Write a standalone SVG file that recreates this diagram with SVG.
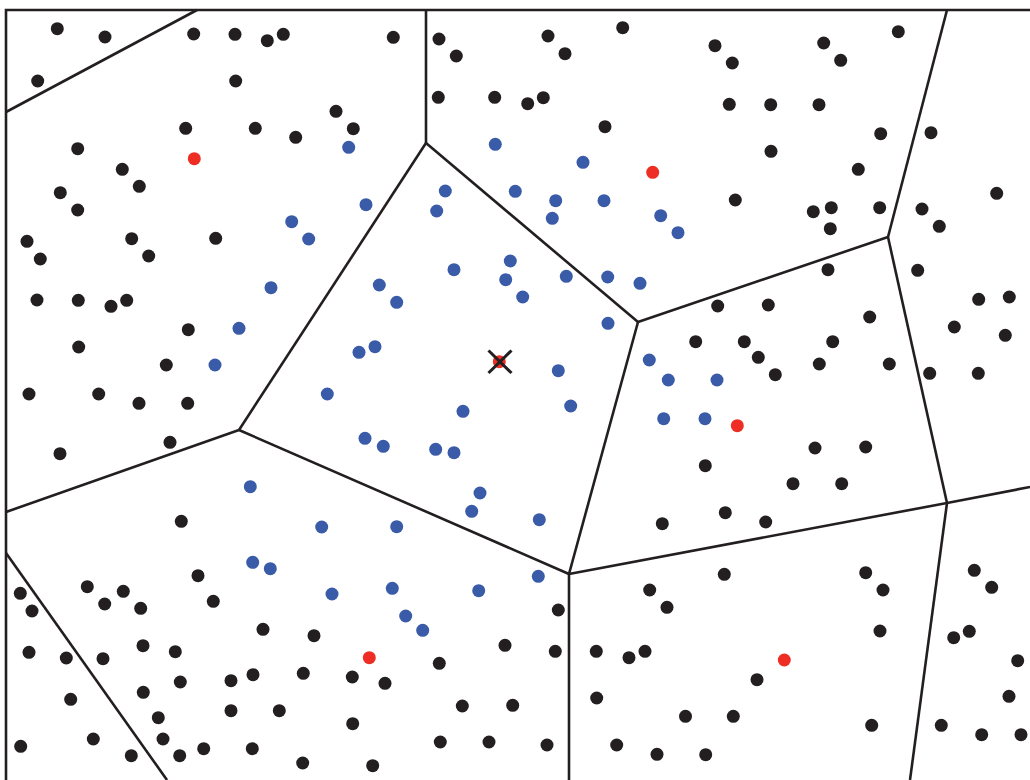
<svg xmlns="http://www.w3.org/2000/svg" width="1030" height="780" viewBox="0 0 1030 780">
<style>
.e{stroke:#231f20;stroke-width:2.6;fill:none;stroke-linejoin:miter}
.k circle{fill:#231f20}
.b circle{fill:#3a5ba8}
.r circle{fill:#ee2e24}
</style>
<rect width="1030" height="780" fill="#fff"/>
<g id="edges" class="e">
<polyline points="6,780 6,10 1030,10"/>
<line x1="197" y1="10" x2="6" y2="112"/>
<line x1="426" y1="10" x2="426" y2="143"/>
<line x1="426" y1="143" x2="239" y2="430"/>
<line x1="426" y1="143" x2="638" y2="322"/>
<line x1="638" y1="322" x2="888" y2="237"/>
<line x1="888" y1="237" x2="947" y2="10"/>
<line x1="888" y1="237" x2="947" y2="503"/>
<line x1="947" y1="503" x2="1030" y2="487"/>
<line x1="947" y1="503" x2="910" y2="780"/>
<line x1="947" y1="503" x2="569" y2="574"/>
<line x1="638" y1="322" x2="569" y2="574"/>
<line x1="569" y1="574" x2="569" y2="780"/>
<line x1="569" y1="574" x2="239" y2="430"/>
<line x1="239" y1="430" x2="6" y2="512"/>
<line x1="6" y1="553" x2="167" y2="780"/>
</g>
<g id="black-points" class="k">
<circle cx="57.3" cy="28.7" r="6.5"/><circle cx="105" cy="37" r="6.5"/><circle cx="37.7" cy="81" r="6.5"/>
<circle cx="193.7" cy="34" r="6.5"/><circle cx="235" cy="34.3" r="6.5"/><circle cx="267.3" cy="40.7" r="6.5"/>
<circle cx="283.3" cy="34.3" r="6.5"/><circle cx="235.7" cy="81" r="6.5"/><circle cx="336" cy="111.3" r="6.5"/>
<circle cx="185.7" cy="128.3" r="6.5"/><circle cx="255.3" cy="128.3" r="6.5"/><circle cx="295.7" cy="137.3" r="6.5"/>
<circle cx="77.7" cy="148.7" r="6.5"/><circle cx="122.3" cy="169.3" r="6.5"/><circle cx="139.3" cy="186.3" r="6.5"/>
<circle cx="60.3" cy="192.7" r="6.5"/><circle cx="77.7" cy="210" r="6.5"/><circle cx="27" cy="241.3" r="6.5"/>
<circle cx="40.3" cy="259" r="6.5"/><circle cx="131.7" cy="238.7" r="6.5"/><circle cx="148.7" cy="256" r="6.5"/>
<circle cx="215.7" cy="238.3" r="6.5"/><circle cx="37" cy="300" r="6.5"/><circle cx="78.3" cy="300.3" r="6.5"/>
<circle cx="111" cy="306.3" r="6.5"/><circle cx="126.7" cy="300.3" r="6.5"/><circle cx="188.3" cy="329.7" r="6.5"/>
<circle cx="78.7" cy="347" r="6.5"/><circle cx="166.3" cy="365" r="6.5"/>
<circle cx="393.3" cy="37.3" r="6.5"/><circle cx="439" cy="39" r="6.5"/><circle cx="456.3" cy="56" r="6.5"/>
<circle cx="548" cy="36" r="6.5"/><circle cx="565" cy="53.7" r="6.5"/><circle cx="622.7" cy="27.7" r="6.5"/>
<circle cx="438.3" cy="97.3" r="6.5"/><circle cx="494.7" cy="97.3" r="6.5"/><circle cx="527.7" cy="103.7" r="6.5"/>
<circle cx="543.3" cy="97.7" r="6.5"/><circle cx="353.3" cy="128.7" r="6.5"/><circle cx="605" cy="126.7" r="6.5"/>
<circle cx="715" cy="45.7" r="6.5"/><circle cx="732.3" cy="63" r="6.5"/><circle cx="823.7" cy="43" r="6.5"/>
<circle cx="840.7" cy="60.3" r="6.5"/><circle cx="898.3" cy="31.7" r="6.5"/><circle cx="729.3" cy="104.3" r="6.5"/>
<circle cx="770.7" cy="104.7" r="6.5"/><circle cx="819" cy="104.7" r="6.5"/><circle cx="880.7" cy="133.7" r="6.5"/>
<circle cx="931" cy="132.7" r="6.5"/><circle cx="771" cy="151.3" r="6.5"/><circle cx="858.3" cy="169.3" r="6.5"/>
<circle cx="735.3" cy="200" r="6.5"/><circle cx="813.3" cy="211.7" r="6.5"/><circle cx="831.3" cy="207.7" r="6.5"/>
<circle cx="879.7" cy="207.7" r="6.5"/><circle cx="830.3" cy="228.7" r="6.5"/><circle cx="996.7" cy="193.3" r="6.5"/>
<circle cx="922" cy="209" r="6.5"/><circle cx="939.3" cy="226.3" r="6.5"/><circle cx="828" cy="269.7" r="6.5"/>
<circle cx="917.7" cy="270.3" r="6.5"/><circle cx="717.7" cy="306" r="6.5"/><circle cx="768.3" cy="305" r="6.5"/>
<circle cx="869.7" cy="317" r="6.5"/><circle cx="978.7" cy="299.3" r="6.5"/><circle cx="1009.3" cy="297" r="6.5"/>
<circle cx="954.3" cy="327" r="6.5"/><circle cx="1005.3" cy="335.3" r="6.5"/><circle cx="695.7" cy="341.7" r="6.5"/>
<circle cx="744.3" cy="341.7" r="6.5"/><circle cx="758.3" cy="357.3" r="6.5"/><circle cx="832.7" cy="341.7" r="6.5"/>
<circle cx="775.3" cy="374.7" r="6.5"/><circle cx="819.3" cy="364" r="6.5"/><circle cx="889.3" cy="364" r="6.5"/>
<circle cx="929.7" cy="373.3" r="6.5"/><circle cx="978.3" cy="373.3" r="6.5"/>
<circle cx="29" cy="394" r="6.5"/><circle cx="98.7" cy="394" r="6.5"/><circle cx="139" cy="403.3" r="6.5"/>
<circle cx="187.7" cy="403.3" r="6.5"/><circle cx="170" cy="442.3" r="6.5"/><circle cx="60" cy="453.7" r="6.5"/>
<circle cx="181.3" cy="521.3" r="6.5"/><circle cx="198" cy="575.7" r="6.5"/><circle cx="87.3" cy="586.7" r="6.5"/>
<circle cx="123.3" cy="591.3" r="6.5"/><circle cx="20.3" cy="593.3" r="6.5"/><circle cx="104.7" cy="604" r="6.5"/>
<circle cx="140.7" cy="608.3" r="6.5"/><circle cx="32" cy="611" r="6.5"/><circle cx="213.3" cy="601.3" r="6.5"/>
<circle cx="263" cy="629.3" r="6.5"/><circle cx="314" cy="635.7" r="6.5"/><circle cx="29" cy="652.3" r="6.5"/>
<circle cx="66.3" cy="658" r="6.5"/><circle cx="103" cy="658.7" r="6.5"/><circle cx="143" cy="645.7" r="6.5"/>
<circle cx="175.3" cy="651.7" r="6.5"/><circle cx="180.3" cy="682" r="6.5"/><circle cx="143.3" cy="692.3" r="6.5"/>
<circle cx="231" cy="680.7" r="6.5"/><circle cx="253" cy="674.7" r="6.5"/><circle cx="303.3" cy="673.3" r="6.5"/>
<circle cx="70.7" cy="699.3" r="6.5"/><circle cx="158.3" cy="717.7" r="6.5"/><circle cx="231" cy="710.7" r="6.5"/>
<circle cx="279.3" cy="710.7" r="6.5"/><circle cx="20.7" cy="746.3" r="6.5"/><circle cx="93.3" cy="739" r="6.5"/>
<circle cx="163" cy="739" r="6.5"/><circle cx="131.3" cy="755.7" r="6.5"/><circle cx="179.7" cy="755.7" r="6.5"/>
<circle cx="203.7" cy="748.7" r="6.5"/><circle cx="252.3" cy="748.7" r="6.5"/><circle cx="302.7" cy="763" r="6.5"/>
<circle cx="662.3" cy="523.7" r="6.5"/><circle cx="558.3" cy="610" r="6.5"/><circle cx="649.7" cy="590" r="6.5"/>
<circle cx="667" cy="607.3" r="6.5"/><circle cx="505" cy="645.3" r="6.5"/><circle cx="555.3" cy="651.3" r="6.5"/>
<circle cx="596.3" cy="651.3" r="6.5"/><circle cx="629" cy="657.7" r="6.5"/><circle cx="645" cy="651.3" r="6.5"/>
<circle cx="439.3" cy="663.3" r="6.5"/><circle cx="352.3" cy="677" r="6.5"/><circle cx="385" cy="683.3" r="6.5"/>
<circle cx="462.3" cy="706" r="6.5"/><circle cx="512.7" cy="705.3" r="6.5"/><circle cx="596.7" cy="698" r="6.5"/>
<circle cx="685.5" cy="716.3" r="6.5"/><circle cx="352.7" cy="723.7" r="6.5"/><circle cx="440.3" cy="742" r="6.5"/>
<circle cx="489" cy="742" r="6.5"/><circle cx="547" cy="745" r="6.5"/><circle cx="616.7" cy="745" r="6.5"/>
<circle cx="657" cy="754.3" r="6.5"/><circle cx="372.7" cy="765.7" r="6.5"/>
<circle cx="815" cy="448" r="6.5"/><circle cx="865.7" cy="447" r="6.5"/><circle cx="705.3" cy="465.7" r="6.5"/>
<circle cx="793" cy="483.7" r="6.5"/><circle cx="841.7" cy="483.7" r="6.5"/><circle cx="725.3" cy="512.7" r="6.5"/>
<circle cx="765.7" cy="522" r="6.5"/><circle cx="724.3" cy="574.3" r="6.5"/><circle cx="865.7" cy="572.7" r="6.5"/>
<circle cx="883" cy="590" r="6.5"/><circle cx="880" cy="631" r="6.5"/><circle cx="974.3" cy="570.3" r="6.5"/>
<circle cx="991.7" cy="587.3" r="6.5"/><circle cx="953.7" cy="637.7" r="6.5"/><circle cx="969.3" cy="631.3" r="6.5"/>
<circle cx="1017.7" cy="660.7" r="6.5"/><circle cx="1009" cy="696.3" r="6.5"/><circle cx="757" cy="679.7" r="6.5"/>
<circle cx="733.3" cy="716.3" r="6.5"/><circle cx="871.7" cy="725.3" r="6.5"/><circle cx="941.3" cy="725.3" r="6.5"/>
<circle cx="981.7" cy="734.7" r="6.5"/><circle cx="1021" cy="734.7" r="6.5"/><circle cx="705.7" cy="754.7" r="6.5"/>
</g>
<g id="blue-points" class="b">
<circle cx="348.7" cy="147.3" r="6.5"/><circle cx="291.7" cy="221.7" r="6.5"/><circle cx="308.7" cy="239" r="6.5"/>
<circle cx="271" cy="287.7" r="6.5"/><circle cx="239" cy="328.3" r="6.5"/><circle cx="215" cy="365" r="6.5"/>
<circle cx="327.3" cy="394" r="6.5"/>
<circle cx="495.3" cy="144.3" r="6.5"/><circle cx="583" cy="162.3" r="6.5"/><circle cx="445.3" cy="191" r="6.5"/>
<circle cx="515.3" cy="191.3" r="6.5"/><circle cx="555.7" cy="200.7" r="6.5"/><circle cx="604" cy="200.7" r="6.5"/>
<circle cx="366" cy="204.7" r="6.5"/><circle cx="436.7" cy="211" r="6.5"/><circle cx="552.3" cy="218.3" r="6.5"/>
<circle cx="660.7" cy="215.7" r="6.5"/><circle cx="678" cy="232.7" r="6.5"/><circle cx="510.3" cy="261" r="6.5"/>
<circle cx="454" cy="269.7" r="6.5"/><circle cx="505.7" cy="279.7" r="6.5"/><circle cx="566.3" cy="276.3" r="6.5"/>
<circle cx="607.7" cy="277" r="6.5"/><circle cx="640" cy="283.3" r="6.5"/><circle cx="379.3" cy="285" r="6.5"/>
<circle cx="396.7" cy="302.3" r="6.5"/><circle cx="522.7" cy="297" r="6.5"/><circle cx="608" cy="323.3" r="6.5"/>
<circle cx="375" cy="346.7" r="6.5"/><circle cx="359" cy="352.3" r="6.5"/><circle cx="558.3" cy="370.7" r="6.5"/>
<circle cx="649.3" cy="360" r="6.5"/><circle cx="668.3" cy="380" r="6.5"/><circle cx="717" cy="380" r="6.5"/>
<circle cx="250.3" cy="486.7" r="6.5"/><circle cx="321.7" cy="527" r="6.5"/><circle cx="252.7" cy="562.3" r="6.5"/>
<circle cx="270.3" cy="568.7" r="6.5"/><circle cx="332" cy="594" r="6.5"/>
<circle cx="463" cy="411.3" r="6.5"/><circle cx="570.7" cy="406" r="6.5"/><circle cx="663.7" cy="418.7" r="6.5"/>
<circle cx="365" cy="438.3" r="6.5"/><circle cx="383.3" cy="446.3" r="6.5"/><circle cx="435.7" cy="449.3" r="6.5"/>
<circle cx="454" cy="452.7" r="6.5"/><circle cx="480" cy="493" r="6.5"/><circle cx="471.7" cy="511.3" r="6.5"/>
<circle cx="539.3" cy="519.7" r="6.5"/><circle cx="396.7" cy="526.7" r="6.5"/><circle cx="538.3" cy="576.3" r="6.5"/>
<circle cx="392.3" cy="588.3" r="6.5"/><circle cx="478.7" cy="590.7" r="6.5"/><circle cx="405.7" cy="616" r="6.5"/>
<circle cx="422.7" cy="630.3" r="6.5"/><circle cx="705" cy="418.7" r="6.5"/>
</g>
<g id="red-points" class="r">
<circle cx="194.3" cy="158.7" r="6.5"/><circle cx="652.7" cy="172.3" r="6.5"/><circle cx="499.3" cy="361.7" r="6.5"/>
<circle cx="737.3" cy="425.7" r="6.5"/><circle cx="369.3" cy="657.7" r="6.5"/><circle cx="784.3" cy="660" r="6.5"/>
</g>
<g id="query-mark" stroke="#231f20" stroke-width="3" fill="none">
<line x1="488.5" y1="350.5" x2="511.5" y2="373"/>
<line x1="511.5" y1="350.5" x2="488.5" y2="373"/>
</g>
</svg>
